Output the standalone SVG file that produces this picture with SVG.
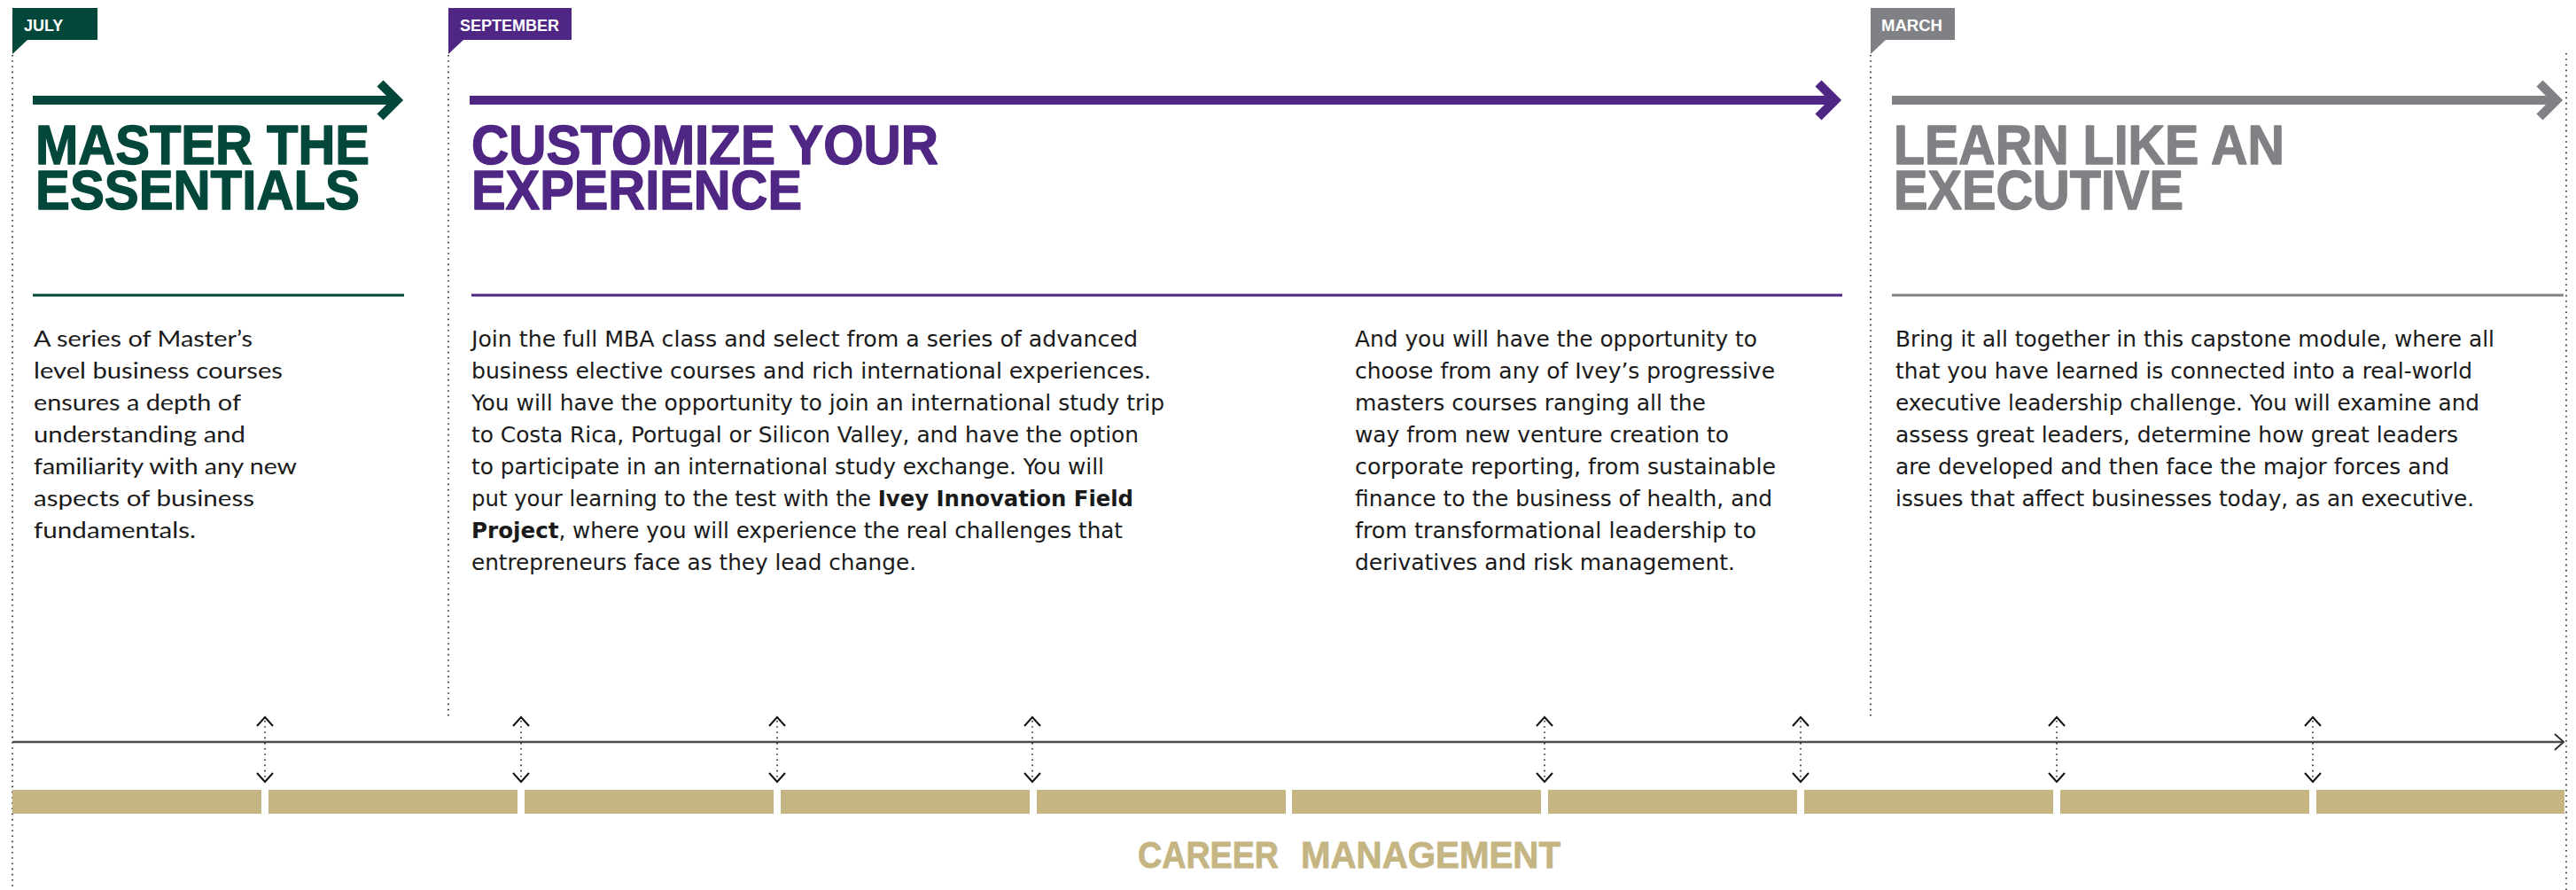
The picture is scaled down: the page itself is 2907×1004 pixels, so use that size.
<svg xmlns="http://www.w3.org/2000/svg" width="2907" height="1004" viewBox="0 0 2907 1004">
<style>
.tag{font-family:"Liberation Sans",Arial,sans-serif;font-weight:bold;font-size:18px;fill:#fff}
.title{font-family:"Liberation Sans",Arial,sans-serif;font-weight:bold;font-size:63px;stroke-width:1.4;stroke-linejoin:round}
.b1{font-family:Lato,"Open Sans",sans-serif;font-size:25px;fill:#1a1a1a}
.b2{font-family:"Liberation Sans Narrow","DejaVu Sans Condensed","Liberation Sans",sans-serif;font-stretch:condensed;font-size:25px;fill:#1a1a1a}
.bold{font-weight:bold}
.dot{stroke:#222;stroke-width:1.6;stroke-dasharray:1.6 4.6;fill:none}
.green{fill:#03473a;stroke:#03473a}
.purple{fill:#4f2683;stroke:#4f2683}
.grey{fill:#808184;stroke:#808184}
.flat{stroke:none}
.gold{fill:#c4b583}
.career{font-family:"Liberation Sans",Arial,sans-serif;font-weight:bold;font-size:42px;fill:#c4b583;stroke:#c4b583;stroke-width:0.8}
.tick{fill:none;stroke:#111;stroke-width:2}
</style>

<!-- dotted guide lines -->
<g id="guides">
<line class="dot" x1="14" y1="62" x2="14" y2="1004"/>
<line class="dot" x1="506" y1="62" x2="506" y2="810"/>
<line class="dot" x1="2111" y1="62" x2="2111" y2="810"/>
<line class="dot" x1="2896" y1="60" x2="2896" y2="1004"/>
</g>

<g id="phase-july">
<polygon class="green flat" points="14,9 110,9 110,45 31,45 14,61"/>
<text class="tag" x="27" y="35">JULY</text>
<text class="title green"><tspan x="40" y="185" textLength="377" lengthAdjust="spacingAndGlyphs">MASTER THE</tspan><tspan x="40" y="236" textLength="366" lengthAdjust="spacingAndGlyphs">ESSENTIALS</tspan></text>
<rect class="green flat" x="37" y="331.5" width="419" height="3"/>
<text class="b1" x="38" y="391" textLength="247" lengthAdjust="spacingAndGlyphs">A series of Master’s</text>
<text class="b1" x="38" y="427" textLength="281" lengthAdjust="spacingAndGlyphs">level business courses</text>
<text class="b1" x="38" y="463" textLength="234" lengthAdjust="spacingAndGlyphs">ensures a depth of</text>
<text class="b1" x="38" y="499" textLength="239" lengthAdjust="spacingAndGlyphs">understanding and</text>
<text class="b1" x="38" y="535" textLength="297" lengthAdjust="spacingAndGlyphs">familiarity with any new</text>
<text class="b1" x="38" y="571" textLength="249" lengthAdjust="spacingAndGlyphs">aspects of business</text>
<text class="b1" x="38" y="607" textLength="183" lengthAdjust="spacingAndGlyphs">fundamentals.</text>
</g>

<g id="phase-september">
<polygon class="purple flat" points="506,9 645,9 645,45 523,45 506,61"/>
<text class="tag" x="519" y="35" textLength="112" lengthAdjust="spacingAndGlyphs">SEPTEMBER</text>
<text class="title purple"><tspan x="532" y="185" textLength="527" lengthAdjust="spacingAndGlyphs">CUSTOMIZE YOUR</tspan><tspan x="532" y="236" textLength="373" lengthAdjust="spacingAndGlyphs">EXPERIENCE</tspan></text>
<rect class="purple flat" x="532" y="331.5" width="1547" height="3"/>
<text class="b2" x="532" y="391" textLength="752" lengthAdjust="spacingAndGlyphs">Join the full MBA class and select from a series of advanced</text>
<text class="b2" x="532" y="427" textLength="767" lengthAdjust="spacingAndGlyphs">business elective courses and rich international experiences.</text>
<text class="b2" x="532" y="463" textLength="782" lengthAdjust="spacingAndGlyphs">You will have the opportunity to join an international study trip</text>
<text class="b2" x="532" y="499" textLength="753" lengthAdjust="spacingAndGlyphs">to Costa Rica, Portugal or Silicon Valley, and have the option</text>
<text class="b2" x="532" y="535" textLength="714" lengthAdjust="spacingAndGlyphs">to participate in an international study exchange. You will</text>
<text class="b2" x="532" y="571" textLength="747" lengthAdjust="spacingAndGlyphs">put your learning to the test with the <tspan class="bold">Ivey Innovation Field</tspan></text>
<text class="b2" x="532" y="607" textLength="735" lengthAdjust="spacingAndGlyphs"><tspan class="bold">Project</tspan>, where you will experience the real challenges that</text>
<text class="b2" x="532" y="643" textLength="502" lengthAdjust="spacingAndGlyphs">entrepreneurs face as they lead change.</text>
<text class="b2" x="1529" y="391" textLength="454" lengthAdjust="spacingAndGlyphs">And you will have the opportunity to</text>
<text class="b2" x="1529" y="427" textLength="474" lengthAdjust="spacingAndGlyphs">choose from any of Ivey’s progressive</text>
<text class="b2" x="1529" y="463" textLength="396" lengthAdjust="spacingAndGlyphs">masters courses ranging all the</text>
<text class="b2" x="1529" y="499" textLength="422" lengthAdjust="spacingAndGlyphs">way from new venture creation to</text>
<text class="b2" x="1529" y="535" textLength="475" lengthAdjust="spacingAndGlyphs">corporate reporting, from sustainable</text>
<text class="b2" x="1529" y="571" textLength="471" lengthAdjust="spacingAndGlyphs">finance to the business of health, and</text>
<text class="b2" x="1529" y="607" textLength="453" lengthAdjust="spacingAndGlyphs">from transformational leadership to</text>
<text class="b2" x="1529" y="643" textLength="429" lengthAdjust="spacingAndGlyphs">derivatives and risk management.</text>
</g>

<g id="phase-march">
<polygon class="grey flat" points="2111,9 2206,9 2206,45 2128,45 2111,61"/>
<text class="tag" x="2123" y="35" textLength="69" lengthAdjust="spacingAndGlyphs">MARCH</text>
<text class="title grey"><tspan x="2137" y="185" textLength="441" lengthAdjust="spacingAndGlyphs">LEARN LIKE AN</tspan><tspan x="2137" y="236" textLength="327" lengthAdjust="spacingAndGlyphs">EXECUTIVE</tspan></text>
<rect class="grey flat" x="2135" y="331.5" width="758" height="3"/>
<text class="b2" x="2139" y="391" textLength="676" lengthAdjust="spacingAndGlyphs">Bring it all together in this capstone module, where all</text>
<text class="b2" x="2139" y="427" textLength="651" lengthAdjust="spacingAndGlyphs">that you have learned is connected into a real-world</text>
<text class="b2" x="2139" y="463" textLength="659" lengthAdjust="spacingAndGlyphs">executive leadership challenge. You will examine and</text>
<text class="b2" x="2139" y="499" textLength="635" lengthAdjust="spacingAndGlyphs">assess great leaders, determine how great leaders</text>
<text class="b2" x="2139" y="535" textLength="625" lengthAdjust="spacingAndGlyphs">are developed and then face the major forces and</text>
<text class="b2" x="2139" y="571" textLength="653" lengthAdjust="spacingAndGlyphs">issues that affect businesses today, as an executive.</text>
</g>

<g id="career-management">
<rect class="gold" x="14" y="891" width="281" height="27"/>
<rect class="gold" x="303" y="891" width="281" height="27"/>
<rect class="gold" x="592" y="891" width="281" height="27"/>
<rect class="gold" x="881" y="891" width="281" height="27"/>
<rect class="gold" x="1170" y="891" width="281" height="27"/>
<rect class="gold" x="1458" y="891" width="281" height="27"/>
<rect class="gold" x="1747" y="891" width="281" height="27"/>
<rect class="gold" x="2036" y="891" width="281" height="27"/>
<rect class="gold" x="2325" y="891" width="281" height="27"/>
<rect class="gold" x="2614" y="891" width="280" height="27"/>
<text class="career" y="979"><tspan x="1284" textLength="159" lengthAdjust="spacingAndGlyphs">CAREER</tspan><tspan x="1468" textLength="293" lengthAdjust="spacingAndGlyphs">MANAGEMENT</tspan></text>
</g>

<g id="connectors">
<g fill="none" stroke-width="10" stroke-miterlimit="10">
<line x1="37" y1="113" x2="446" y2="113" stroke="#03473a"/>
<polyline points="429,94 448,113 429,132" stroke="#03473a"/>
<line x1="530" y1="113" x2="2069" y2="113" stroke="#4f2683"/>
<polyline points="2052,94 2071,113 2052,132" stroke="#4f2683"/>
<line x1="2135" y1="113" x2="2883" y2="113" stroke="#808184"/>
<polyline points="2866,94 2885,113 2866,132" stroke="#808184"/>
</g>
<line x1="14" y1="837" x2="2892" y2="837" stroke="#4d4d4d" stroke-width="2.5"/>
<polyline points="2883,828 2893,837 2883,846" fill="none" stroke="#333" stroke-width="2"/>
<g id="ticks">
<g transform="translate(299,0)"><line class="dot" x1="0" y1="813" x2="0" y2="879"/><polyline class="tick" points="-9,819 0,809 9,819"/><polyline class="tick" points="-9,872 0,882 9,872"/></g>
<g transform="translate(588,0)"><line class="dot" x1="0" y1="813" x2="0" y2="879"/><polyline class="tick" points="-9,819 0,809 9,819"/><polyline class="tick" points="-9,872 0,882 9,872"/></g>
<g transform="translate(877,0)"><line class="dot" x1="0" y1="813" x2="0" y2="879"/><polyline class="tick" points="-9,819 0,809 9,819"/><polyline class="tick" points="-9,872 0,882 9,872"/></g>
<g transform="translate(1165,0)"><line class="dot" x1="0" y1="813" x2="0" y2="879"/><polyline class="tick" points="-9,819 0,809 9,819"/><polyline class="tick" points="-9,872 0,882 9,872"/></g>
<g transform="translate(1743,0)"><line class="dot" x1="0" y1="813" x2="0" y2="879"/><polyline class="tick" points="-9,819 0,809 9,819"/><polyline class="tick" points="-9,872 0,882 9,872"/></g>
<g transform="translate(2032,0)"><line class="dot" x1="0" y1="813" x2="0" y2="879"/><polyline class="tick" points="-9,819 0,809 9,819"/><polyline class="tick" points="-9,872 0,882 9,872"/></g>
<g transform="translate(2321,0)"><line class="dot" x1="0" y1="813" x2="0" y2="879"/><polyline class="tick" points="-9,819 0,809 9,819"/><polyline class="tick" points="-9,872 0,882 9,872"/></g>
<g transform="translate(2610,0)"><line class="dot" x1="0" y1="813" x2="0" y2="879"/><polyline class="tick" points="-9,819 0,809 9,819"/><polyline class="tick" points="-9,872 0,882 9,872"/></g>
</g>
</g>
</svg>
